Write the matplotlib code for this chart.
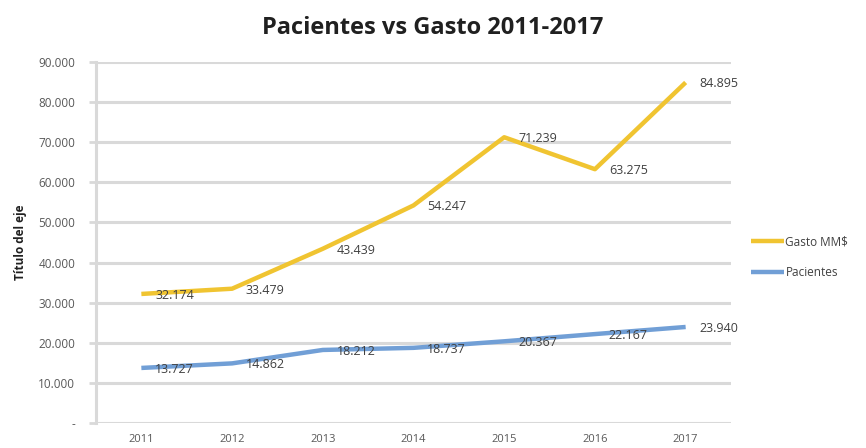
import matplotlib
matplotlib.use("Agg")
from matplotlib import pyplot as plt
from matplotlib.ticker import FuncFormatter

years = ["2011", "2012", "2013", "2014", "2015", "2016", "2017"]
gasto = [32174, 33479, 43439, 54247, 71239, 63275, 84895]
pacientes = [13727, 14862, 18212, 18737, 20367, 22167, 23940]

gold = "#f0c431"
blue = "#719fd6"
grid = "#d9d9d9"

plt.rcParams['font.family'] = ['Open Sans', 'DejaVu Sans']


def fmt_miles(v, pos=None):
    if v == 0:
        return "-"
    return "{:,.0f}".format(v).replace(",", ".")


fig = plt.figure(figsize=(8.66, 4.48), dpi=100)
ax = fig.add_axes([96 / 866, (448 - 423) / 448, (731 - 96) / 866, (423 - 62) / 448])

x = list(range(len(years)))
ax.plot(x, gasto, color=gold, lw=3.2, solid_capstyle="butt", label="Gasto MM$", zorder=3)
ax.plot(x, pacientes, color=blue, lw=3.2, solid_capstyle="butt", label="Pacientes", zorder=3)

for serie in (gasto, pacientes):
    for xi, v in zip(x, serie):
        ax.annotate(fmt_miles(v), (xi, v), xytext=(10, -1), textcoords="offset points",
                    ha="left", va="center", fontsize=9, color="#404040", zorder=4)

ax.set_xlim(-0.5, len(years) - 0.5)
ax.set_ylim(0, 90000)
ax.set_yticks(range(0, 90001, 10000))
ax.yaxis.set_major_formatter(FuncFormatter(fmt_miles))
ax.set_xticks(x)
ax.set_xticklabels(years)
ax.grid(axis="y", color=grid, lw=2.2, zorder=0)
ax.set_axisbelow(True)

for s in ["top", "right", "bottom"]:
    ax.spines[s].set_visible(False)
ax.spines["left"].set_color(grid)
ax.spines["left"].set_linewidth(2.2)
ax.tick_params(axis="y", length=5, width=2, color=grid, labelsize=8.5, labelcolor="#595959", pad=10)
ax.tick_params(axis="x", length=0, labelsize=8, labelcolor="#595959", pad=8)

ax.set_ylabel("Título del eje", fontsize=8.5, fontweight="bold", color="#202020", labelpad=8)
fig.text(0.5 * (96 + 770) / 866, 1 - 28 / 448, "Pacientes vs Gasto 2011-2017",
         ha="center", va="center", fontsize=17, fontweight="bold", color="#202020")

ax.legend(loc="center left", bbox_to_anchor=(1.015, 0.46), frameon=False, fontsize=8.5,
          handlelength=2.8, handletextpad=0.1, labelspacing=1.5, labelcolor="#404040")

fig.savefig("out.png", dpi=100)
